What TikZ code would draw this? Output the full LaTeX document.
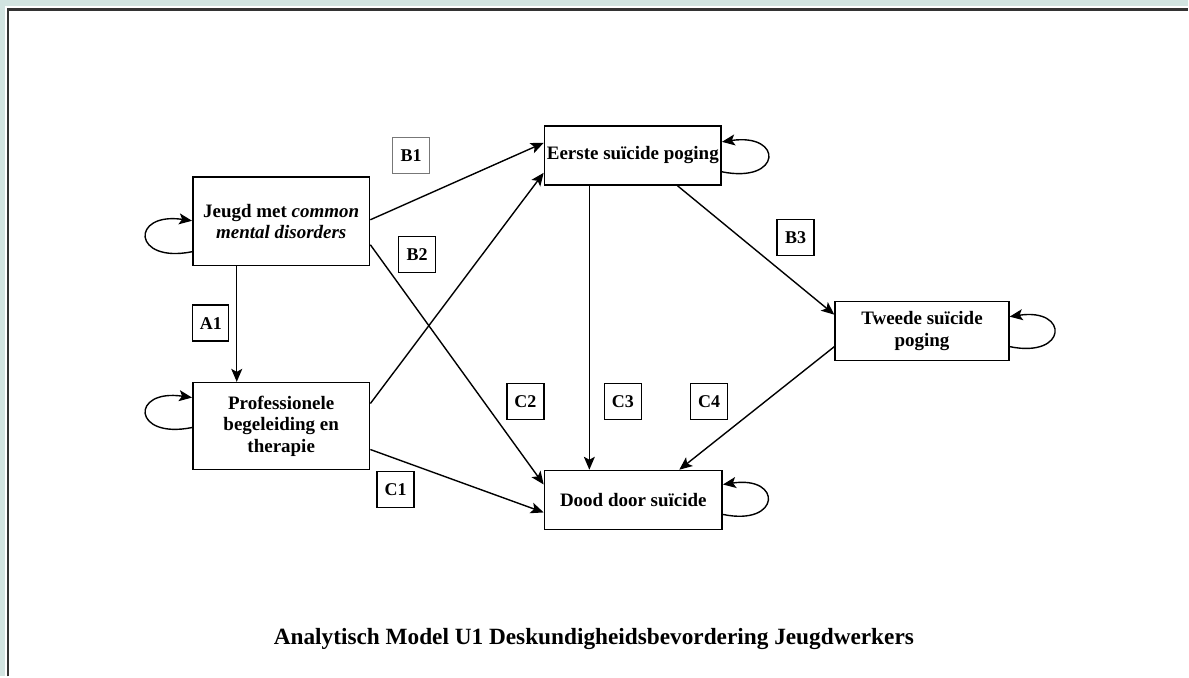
\documentclass[tikz,border=0pt]{standalone}
\usepackage{fontspec}
\setmainfont{Liberation Serif}
\usetikzlibrary{arrows.meta,calc}
\definecolor{frametint}{HTML}{D2E4E1}
\definecolor{labgray}{HTML}{777777}
\begin{document}
\begin{tikzpicture}[x=1pt,y=-1pt,
  box/.style={draw=black,line width=1.5pt,fill=white,align=center,
    font=\fontsize{19}{21.5}\selectfont\bfseries,inner sep=0pt},
  tag/.style={draw=black,line width=1.4pt,fill=white,minimum width=37pt,
    minimum height=36pt,inner sep=0pt,font=\fontsize{18}{20}\selectfont\bfseries},
  link/.style={line width=1.4pt,-{Stealth[length=13pt,width=11pt,inset=3pt]}},
]
% page frame
\fill[frametint] (0,0) rectangle (1189,677);
\fill[white] (5,6.5) rectangle (1189,677);
\draw[black!80,line width=2.6pt] (8,677) -- (8,9.5) -- (1189,9.5);
\useasboundingbox (0,0) rectangle (1189,677);

% variables
\node[box,minimum width=177pt,minimum height=89pt] (jeugd) at (281.5,221.5)
  {Jeugd met \textit{common}\\\textit{mental disorders}};
\node[box,minimum width=177pt,minimum height=87pt] (prof) at (281.5,426.5)
  {Professionele\\begeleiding en\\therapie};
\node[box,minimum width=177pt,minimum height=59pt] (eerste) at (633.5,155.5)
  {Eerste suïcide poging};
\node[box,minimum width=174pt,minimum height=59pt] (tweede) at (923,331.5)
  {Tweede suïcide\\poging};
\node[box,minimum width=178pt,minimum height=59pt] (dood) at (634,500.5)
  {Dood door suïcide};

% path labels
\node[tag,draw=labgray] (tB1) at (411.5,155.5) {B1};
\node[tag] (tB2) at (417.5,255) {B2};
\node[tag,minimum width=36pt] (tA1) at (211,323.5) {A1};
\node[tag] (tB3) at (796.5,238) {B3};
\node[tag] (tC1) at (396,490) {C1};
\node[tag] (tC2) at (526,402) {C2};
\node[tag] (tC3) at (623.5,402) {C3};
\node[tag] (tC4) at (710,402) {C4};

% effects
\draw[link] ($(jeugd.east)+(0,-1.5)$) -- ($(eerste.west)+(0,-12.5)$);
\draw[link] ($(jeugd.east)+(0,23.5)$) -- ($(dood.west)+(0,-15.5)$);
\draw[link] ($(prof.east)+(0,-22.5)$) -- ($(eerste.west)+(0,17.5)$);
\draw[link] ($(prof.east)+(0,23.5)$) -- ($(dood.west)+(0,12.5)$);
\draw[link] ($(jeugd.south)+(-44.5,0)$) -- ($(prof.north)+(-44.5,0)$);
\draw[link] ($(eerste.south)+(-43.5,0)$) -- ($(dood.north)+(-44,0)$);
\draw[link] ($(eerste.south)+(44.5,0)$) -- ($(tweede.west)+(0,-16.5)$);
\draw[link] ($(tweede.west)+(0,15.5)$) -- ($(dood.north)+(46,0)$);

% self loops
\draw[link] ($(jeugd.west)+(0,30.5)$) .. controls +(-60,12) and +(-62,-9) .. ($(jeugd.west)+(0,-0.5)$);
\draw[link] ($(prof.west)+(0,1.5)$) .. controls +(-60,12) and +(-62,-9) .. ($(prof.west)+(0,-28.5)$);
\draw[link] ($(eerste.east)+(0,16.5)$) .. controls +(60,12) and +(62,-9) .. ($(eerste.east)+(0,-13.5)$);
\draw[link] ($(tweede.east)+(0,15.5)$) .. controls +(58,12) and +(60,-9) .. ($(tweede.east)+(0,-14.5)$);
\draw[link] ($(dood.east)+(0,14.5)$) .. controls +(58,12) and +(60,-9) .. ($(dood.east)+(0,-15.5)$);

% caption
\node[anchor=base,font=\fontsize{23.3}{26}\selectfont\bfseries] (caption) at (594.5,645)
  {Analytisch Model U1 Deskundigheidsbevordering Jeugdwerkers};
\end{tikzpicture}
\end{document}
